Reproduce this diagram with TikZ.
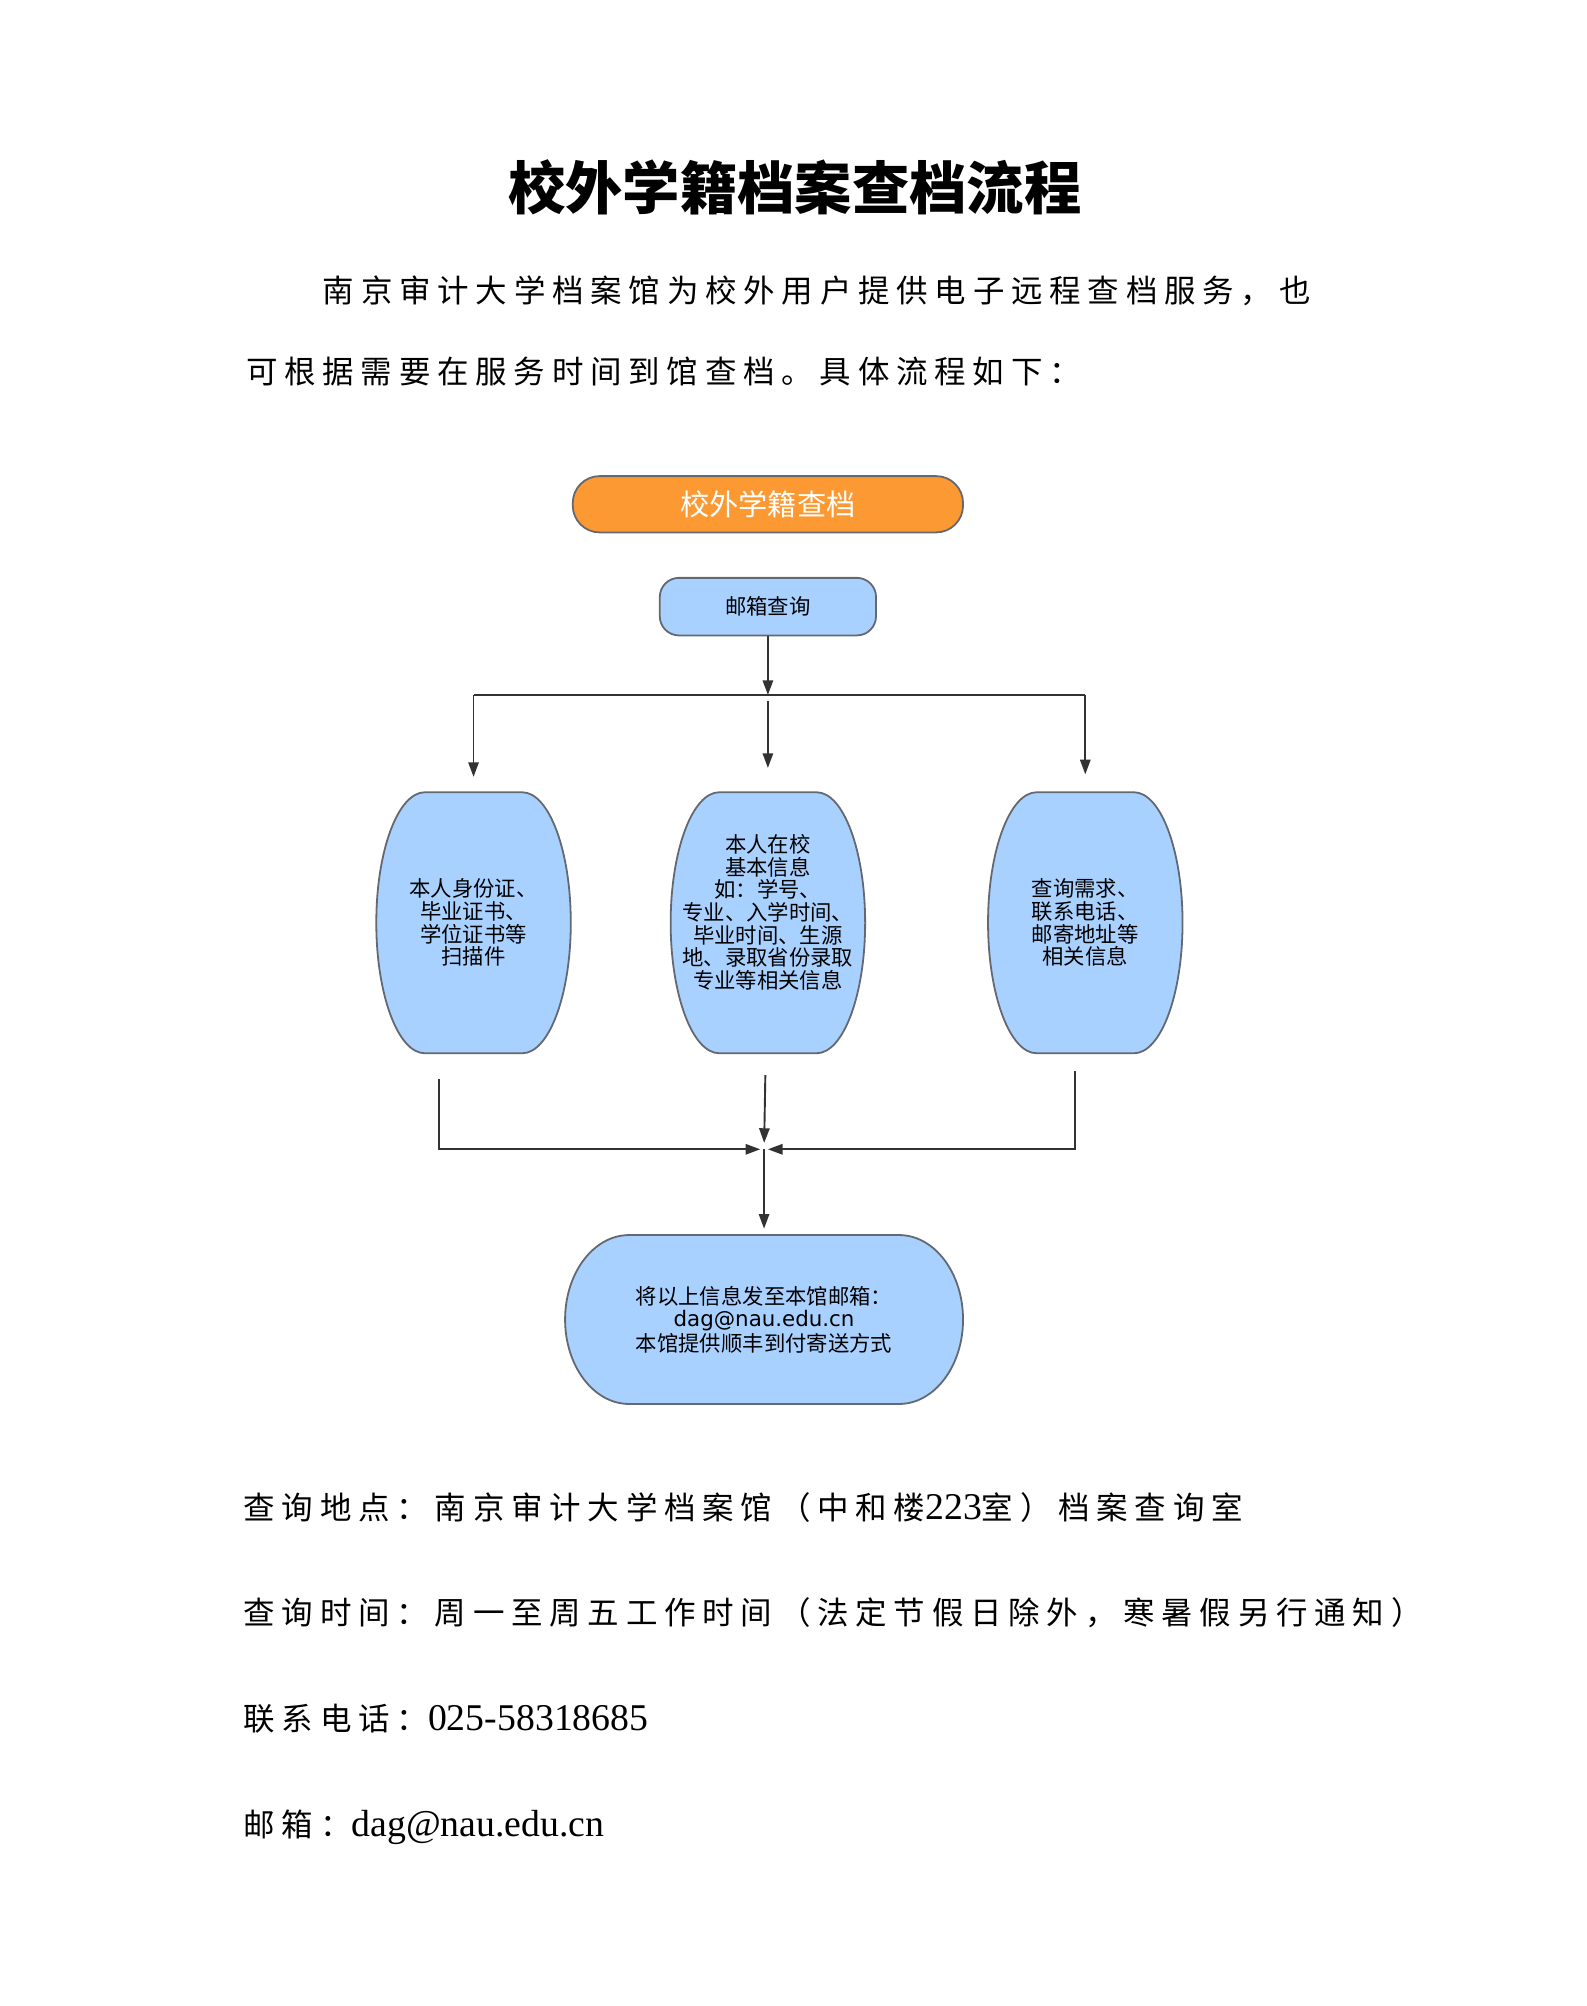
\documentclass[tikz,border=0pt]{standalone}
\usepackage{fontspec}
\usepackage{tikz}
\usetikzlibrary{arrows.meta, backgrounds, calc, positioning}
\newfontfamily\bodycjk[LetterSpace=21.5]{Noto Sans CJK SC}
\newfontfamily\bodylatin{Liberation Serif}
\newfontfamily\chartcjk{Noto Sans CJK SC}
\newfontfamily\chartlatin{DejaVu Sans}
\definecolor{headorange}{RGB}{253, 153, 51}
\definecolor{boxblue}{RGB}{169, 209, 255}
\definecolor{edgegray}{RGB}{100, 104, 112}
\definecolor{wiregray}{RGB}{50, 50, 50}
\newcommand{\lat}[1]{{\bodylatin\fontsize{16.8pt}{18pt}\selectfont #1}}
% soft box behind a node: name, x radius, y radius
\newcommand{\capsule}[3]{%
  \begin{scope}[on background layer]
    \draw[shell] ($(#1.north west)+(#2,0)$)
      -- ($(#1.north east)+(-#2,0)$)
      arc[start angle=90, end angle=0, x radius=#2, y radius=#3]
      -- ($(#1.south east)+(0,#3)$)
      arc[start angle=0, end angle=-90, x radius=#2, y radius=#3]
      -- ($(#1.south west)+(#2,0)$)
      arc[start angle=-90, end angle=-180, x radius=#2, y radius=#3]
      -- ($(#1.north west)+(0,-#3)$)
      arc[start angle=180, end angle=90, x radius=#2, y radius=#3]
      -- cycle;
  \end{scope}}

\begin{document}
\begin{tikzpicture}[x=0.02cm, y=0.02cm,
    wire/.style={draw=wiregray, line width=0.85pt},
    flow/.style={wire, -{Triangle[length=6.5pt, width=4.6pt]}},
    shell/.style={draw=edgegray, fill=boxblue, line width=0.8pt},
    bodyline/.style={anchor=base west, inner sep=0pt,
      font=\bodycjk\fontsize{14pt}{16pt}\selectfont},
    headbox/.style={draw=edgegray, fill=headorange, line width=0.8pt,
      rounded corners=0.42cm, minimum width=6.1cm, minimum height=0.88cm,
      text=white, font=\chartcjk\fontsize{13pt}{15pt}\selectfont},
    mailbox/.style={draw=edgegray, fill=boxblue, line width=0.8pt,
      rounded corners=0.3cm, minimum width=3.38cm, minimum height=0.9cm,
      font=\chartcjk\fontsize{9.5pt}{10.1pt}\selectfont},
    infonode/.style={minimum width=3.04cm, minimum height=4.08cm,
      align=center, inner sep=2pt, outer sep=0pt,
      font=\chartcjk\fontsize{9.5pt}{10.1pt}\selectfont},
    sendnode/.style={minimum width=6.22cm, minimum height=2.64cm,
      align=center, inner sep=2pt, outer sep=0pt,
      font=\chartcjk\fontsize{9.5pt}{10pt}\selectfont}]

  \useasboundingbox (0,0) rectangle (1240,-1567.4);

  % heading and opening text
  \node[anchor=base, inner sep=0pt,
    font=\chartcjk\bfseries\fontsize{25.5pt}{28pt}\selectfont] (title)
    at (621,-164) {校外学籍档案查档流程};
  \node[bodyline] (introA) at (252,-236)
    {南京审计大学档案馆为校外用户提供电子远程查档服务，也};
  \node[bodyline] (introB) at (192,-300)
    {可根据需要在服务时间到馆查档。具体流程如下：};

  % flow chart
  \node[headbox] (head) at (600,-394) {校外学籍查档};
  \node[mailbox] (mail) at (600,-474) {邮箱查询};

  \node[infonode] (scan) at (370,-721)
    {本人身份证、\\毕业证书、\\学位证书等\\扫描件};
  \node[infonode] (basic) at (600,-721)
    {本人在校\\基本信息\\如：学号、\\专业、入学时间、\\毕业时间、生源\\地、录取省份录取\\专业等相关信息\\~};
  \node[infonode] (contact) at (848,-721)
    {查询需求、\\联系电话、\\邮寄地址等\\相关信息};
  \capsule{scan}{38}{102}
  \capsule{basic}{38}{102}
  \capsule{contact}{38}{102}

  \node[sendnode] (send) at (597,-1031)
    {将以上信息发至本馆邮箱：\\{\chartlatin dag@nau.edu.cn}\\本馆提供顺丰到付寄送方式};
  \capsule{send}{50}{66}

  \coordinate (split) at (600,-543);
  \draw[flow] (mail) -- (split);
  \draw[wire] (scan |- split) -- (contact |- split);
  \draw[flow, shorten >=0.24cm] (scan |- split) -- (scan);
  \draw[flow, shorten >=0.38cm] ([yshift=-0.1cm]split) -- (basic);
  \draw[flow, shorten >=0.28cm] (contact |- split) -- (contact);

  \coordinate (merge) at (597,-898);
  \coordinate (tailL) at (343,-843);
  \coordinate (tailM) at (598,-840);
  \coordinate (tailR) at (840,-837);
  \draw[flow, shorten >=0.06cm] (tailL) |- (merge);
  \draw[flow, shorten >=0.06cm] (tailR) |- (merge);
  \draw[flow, shorten >=0.1cm] (tailM) -- (merge);
  \draw[flow, shorten >=0.1cm] (merge) -- (send);

  % closing notes
  \node[bodyline] (place) at (190,-1187)
    {查询地点：南京审计大学档案馆（中和楼\lat{223}室）档案查询室};
  \node[bodyline] (hours) at (190,-1269)
    {查询时间：周一至周五工作时间（法定节假日除外，寒暑假另行通知）};
  \node[bodyline] (phone) at (190,-1352)
    {联系电话：\lat{025-58318685}};
  \node[bodyline] (email) at (190,-1435)
    {邮箱：\lat{dag@nau.edu.cn}};

\end{tikzpicture}
\end{document}
